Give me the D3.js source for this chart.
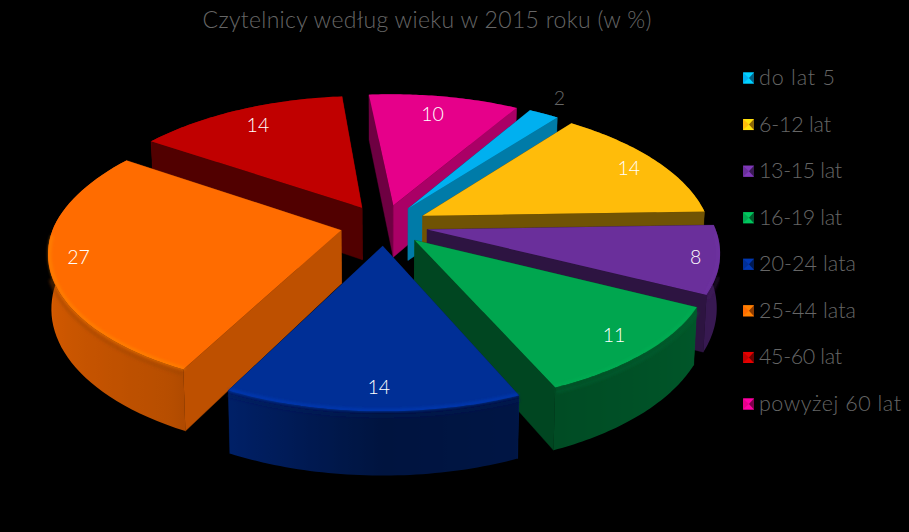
<!DOCTYPE html>
<html lang="pl">
<head>
<meta charset="utf-8">
<title>Czytelnicy według wieku</title>
<script src="https://cdn.jsdelivr.net/npm/d3@7"></script>
<style>
  html, body { margin: 0; background: #000; }
  svg { display: block; }
  text { font-family: Lato, "Open Sans", sans-serif; font-weight: 300; }
</style>
</head>
<body>
<svg id="chart" width="909" height="532"></svg>
<script>
const categories = ["do lat 5", "6-12 lat", "13-15 lat", "16-19 lat", "20-24 lata", "25-44 lata", "45-60 lat", "powyżej 60 lat"];
const values = [2, 14, 8, 11, 14, 27, 14, 10];
const colors = ["#00B0F0", "#FFBC0A", "#6A2F9B", "#00A64F", "#002F96", "#FF6C00", "#C00000", "#E6008A"];
const titleText = "Czytelnicy według wieku w 2015 roku (w %)";

const width = 909, height = 532;
const cx = 384, cy = 225;
const radius = 287, explode = 44, depth = 53;
const tilt = 0.465, persp = 1900, perspBack = 1700;
const firstAngle = 30.5 * Math.PI / 180;

const svg = d3.select("#chart");
svg.append("rect").attr("width", width).attr("height", height).attr("fill", "#000");

const defs = svg.append("defs");
defs.append("filter").attr("id", "soft").attr("x", "-10%").attr("y", "-10%").attr("width", "120%").attr("height", "120%")
  .append("feGaussianBlur").attr("stdDeviation", 1.6);

// ground plane -> screen, with a little perspective (tighter behind the centre)
function project(X, Y, z) {
  const f = 1 / (1 - Y / persp);
  const fx = Y < 0 ? 1 / (1 - Y / perspBack) : f;
  const squeeze = z ? 0.99 : 1;
  return [cx + X * fx * squeeze, cy + tilt * Y * f + (z ? depth * f : 0)];
}

const pie = d3.pie().sort(null).startAngle(firstAngle).endAngle(firstAngle + 2 * Math.PI);
const slices = pie(values).map((d, i) => {
  const mid = (d.startAngle + d.endAngle) / 2;
  return {
    ...d, i, mid,
    ox: explode * Math.sin(mid),
    oy: -explode * Math.cos(mid),
    color: colors[i]
  };
});

const rim = (s, a, r = radius) => [s.ox + r * Math.sin(a), s.oy - r * Math.cos(a)];
const arcAngles = (s) => d3.range(0, 1.0001, 1 / 48).map(t => s.startAngle + t * (s.endAngle - s.startAngle));
const line = d3.line();

// brightness of a wall by where it faces (degrees, clockwise from the back)
const shade = d3.scaleLinear()
  .domain([0, 90, 120, 180, 210, 250, 270, 360])
  .range([0.5, 0.78, 0.74, 0.43, 0.42, 0.42, 0.5, 0.5]);
const rimShade = d3.scaleLinear()
  .domain([0, 100, 130, 155, 180, 210, 250, 290, 360])
  .range([0.4, 0.55, 0.5, 0.46, 0.42, 0.72, 0.82, 0.9, 0.5]);

const deg = a => ((a * 180 / Math.PI) % 360 + 360) % 360;
const dim = (c, k) => { const q = d3.rgb(c); return d3.rgb(q.r * k, q.g * k, q.b * k).formatHex(); };

// painter's order: back slices first
const order = slices.slice().sort((a, b) => centroidY(a) - centroidY(b));
function centroidY(s) {
  return s.oy - radius * 0.6 * Math.cos(s.mid);
}

const pies = svg.append("g").attr("class", "plot-area");

function radialWall(g, s, a, normal) {
  const [x, y] = rim(s, a);
  const pts = [project(s.ox, s.oy, false), project(x, y, false), project(x, y, true), project(s.ox, s.oy, true)];
  const c = dim(s.color, shade(deg(normal)));
  g.append("path").attr("d", line(pts) + "Z").attr("fill", c).attr("stroke", c).attr("stroke-width", 0.4);
}

function outerWall(g, s) {
  const angles = arcAngles(s);
  const topEdge = angles.map(a => project(...rim(s, a), false));
  const lowEdge = angles.map(a => project(...rim(s, a), true)).reverse();
  const front = angles.filter(a => Math.sin(a - Math.PI / 2) > 0);
  const ramp = front.length > 1 ? front : angles;
  const rampX = ramp.map(a => project(...rim(s, a), false)[0]);
  const [x1, x2] = d3.extent(rampX);
  const grad = defs.append("linearGradient").attr("id", `wall${s.i}`)
    .attr("gradientUnits", "userSpaceOnUse")
    .attr("x1", x1).attr("x2", x2).attr("y1", 0).attr("y2", 0);
  grad.selectAll("stop")
    .data(d3.zip(rampX, ramp).sort((p, q) => p[0] - q[0]))
    .join("stop")
    .attr("offset", p => (p[0] - x1) / (x2 - x1))
    .attr("stop-color", p => dim(s.color, rimShade(deg(p[1]))));
  g.append("path").attr("d", line([...topEdge, ...lowEdge]) + "Z").attr("fill", `url(#wall${s.i})`);
}

order.forEach(s => {
  const g = pies.append("g").attr("class", "slice");
  const back = Math.cos(s.mid) > 0;
  const walls = [
    { a: s.startAngle, n: s.startAngle - Math.PI / 2 },
    { a: s.endAngle, n: s.endAngle + Math.PI / 2 }
  ].sort((p, q) => Math.cos(q.n) - Math.cos(p.n));
  if (back) outerWall(g, s);
  walls.forEach(w => radialWall(g, s, w.a, w.n));
  if (!back) outerWall(g, s);

  const outline = [[s.ox, s.oy], ...arcAngles(s).map(a => rim(s, a))].map(([x, y]) => project(x, y, false));
  g.append("path").attr("d", line(outline) + "Z").attr("fill", s.color);

  // soft bevel on the visible front rim
  const frontAngles = arcAngles(s).filter(a => Math.cos(a) < -0.02);
  if (frontAngles.length > 1) {
    const rimPts = frontAngles.map(a => project(...rim(s, a, radius - 1.5), false));
    g.append("path").attr("d", line(rimPts)).attr("fill", "none")
      .attr("stroke", d3.rgb(s.color).brighter(0.7).formatHex())
      .attr("stroke-width", 2.5).attr("stroke-opacity", s.i === 3 || s.i === 2 ? 0.15 : 0.75)
      .attr("filter", "url(#soft)");
    const lowAngles = frontAngles.filter(a => Math.cos(a) < -0.3);
    const lowPts = lowAngles.map(a => project(...rim(s, a, radius + 1), false).map((v, k) => k ? v + 4 : v));
    g.append("path").attr("d", line(lowPts)).attr("fill", "none")
      .attr("stroke", dim(s.color, 0.6)).attr("stroke-width", 3)
      .attr("stroke-opacity", 0.5).attr("filter", "url(#soft)");
  }
});

// data labels
const labelRadius = [1.17, 0.87, 0.92, 0.87, 0.87, 0.9, 0.83, 0.82];
const labelTurn = [-1, 1, 0, -1, -1, 2, 0, -1];
const labelPos = s => {
  const a = s.mid + labelTurn[s.i] * Math.PI / 180;
  return project(...rim(s, a, radius * labelRadius[s.i]), false);
};
svg.append("g").selectAll("text").data(slices).join("text")
  .attr("x", s => labelPos(s)[0])
  .attr("y", s => labelPos(s)[1] + 7)
  .attr("text-anchor", "middle")
  .attr("font-size", 19.5)
  .attr("fill", s => s.i === 0 ? "#666" : "#fff")
  .text(s => s.data);

// title
svg.append("text").attr("x", 427).attr("y", 28).attr("text-anchor", "middle")
  .attr("font-size", 23).attr("fill", "#666")
  .attr("textLength", 449).attr("lengthAdjust", "spacing")
  .text(titleText);

// legend
const legendY = d3.scalePoint().domain(categories).range([78, 404]);
const legendWidths = [76, 72, 83, 83, 97, 97, 83, 142];
const legend = svg.append("g").selectAll("g").data(categories).join("g")
  .attr("transform", d => `translate(743,${legendY(d)})`);
legend.each(function (d, i) {
  const g = d3.select(this), c = colors[i], s = 5.5;
  g.append("rect").attr("x", 0).attr("y", -s).attr("width", 11).attr("height", 11).attr("fill", c);
  g.append("path").attr("d", line([[0, -s], [11, -s], [6, 0]]) + "Z").attr("fill", d3.rgb(c).brighter(0.5).formatHex());
  g.append("path").attr("d", line([[0, s], [11, s], [6, 0]]) + "Z").attr("fill", d3.rgb(c).brighter(0.5).formatHex());
  g.append("path").attr("d", line([[11, -s], [11, s], [6, 0]]) + "Z").attr("fill", dim(c, 0.55));
  g.append("text").attr("x", 16).attr("y", 7).attr("font-size", 21.5).attr("fill", "#666")
    .attr("textLength", legendWidths[i]).attr("lengthAdjust", "spacing").text(d);
});
</script>
</body>
</html>
